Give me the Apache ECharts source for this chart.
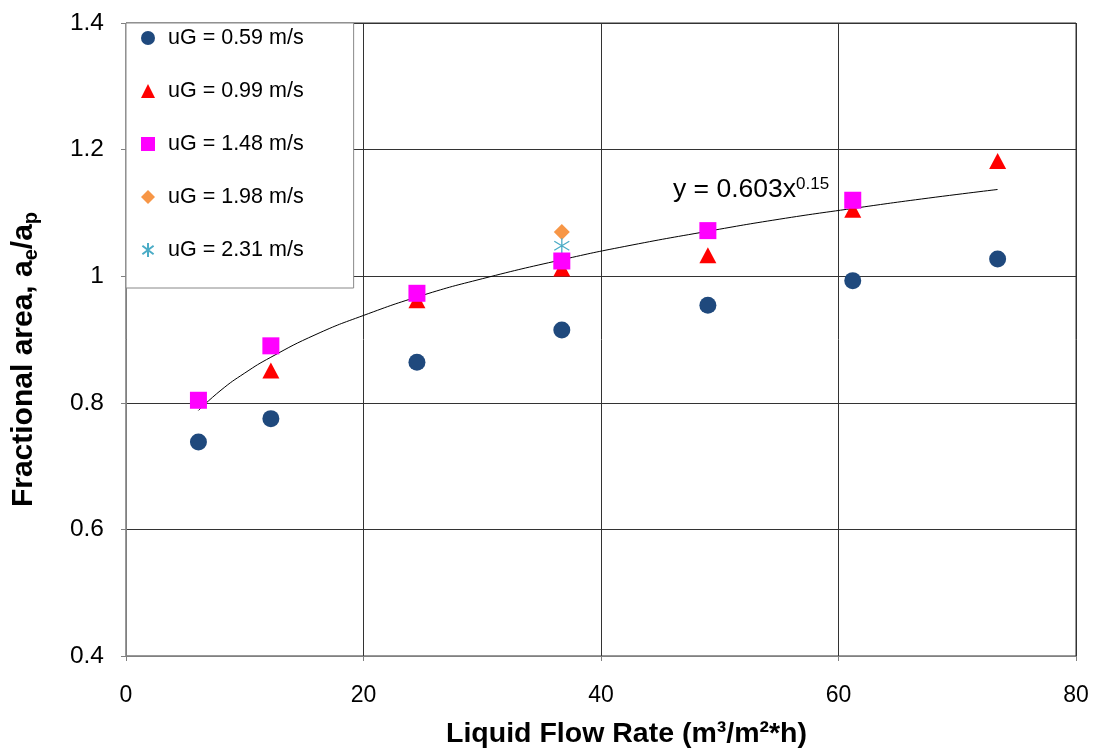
<!DOCTYPE html>
<html>
<head>
<meta charset="utf-8">
<script src="https://cdn.jsdelivr.net/npm/echarts@6/dist/echarts.min.js"></script>
<style>
html,body{margin:0;padding:0;background:#fff;}
#chart{width:1097px;height:756px;}
</style>
</head>
<body>
<div id="chart"></div>
<script>
// ---- data ----
const flowAll   = [6.1, 12.2, 24.5, 36.7, 49.0, 61.2, 73.4];
const ug059     = [0.738, 0.775, 0.864, 0.915, 0.954, 0.993, 1.027];
const flow099   = [12.2, 24.5, 36.7, 49.0, 61.2, 73.4];
const ug099     = [0.851, 0.962, 1.012, 1.033, 1.105, 1.182];
const flow148   = [6.1, 12.2, 24.5, 36.7, 49.0, 61.2];
const ug148     = [0.804, 0.890, 0.973, 1.024, 1.072, 1.120];
const flow198   = [36.7];
const ug198     = [1.070];
const flow231   = [36.7];
const ug231     = [1.048];
// trend line (y = 0.603x^0.15)
const trendX    = [6.1, 8, 10, 12.2, 16, 20, 25, 30, 36.7, 42, 49.0, 55, 61.2, 67, 73.4];
const trendY    = [0.788, 0.820, 0.847, 0.872, 0.908, 0.938, 0.970, 0.996, 1.026, 1.047, 1.071, 1.090, 1.107, 1.122, 1.137];
const xTicks    = [0, 20, 40, 60, 80];
const yTicks    = [0.4, 0.6, 0.8, 1, 1.2, 1.4];
const seriesNames = ['uG = 0.59 m/s', 'uG = 0.99 m/s', 'uG = 1.48 m/s', 'uG = 1.98 m/s', 'uG = 2.31 m/s'];

const pairs = (xs, ys) => xs.map((x, i) => [x, ys[i]]);
const FONT = '"Liberation Sans", Arial, sans-serif';
const asterisk = 'path://M5 0 L5 10 M1 2 L9 8 M1 8 L9 2';

const chart = echarts.init(document.getElementById('chart'));
chart.setOption({
  animation: false,
  backgroundColor: '#fff',
  textStyle: { fontFamily: FONT },
  grid: { left: 126, right: 21, top: 23, bottom: 100, containLabel: false, outerBoundsMode: 'none',
          show: true, borderColor: '#333', borderWidth: 1 },
  legend: {
    data: seriesNames,
    orient: 'vertical',
    left: 126, top: 23,
    backgroundColor: '#fff',
    borderColor: '#888',
    borderWidth: 1,
    padding: [4, 50, 27, 15],
    itemGap: 31,
    itemWidth: 14, itemHeight: 14,
    textStyle: { fontSize: 21.5, color: '#000', fontFamily: FONT, lineHeight: 21, padding: [0, 0, 0, 8] }
  },
  xAxis: {
    type: 'value', min: xTicks[0], max: xTicks[xTicks.length - 1], interval: 20,
    name: 'Liquid Flow Rate (m³/m²*h)',
    nameLocation: 'middle', nameGap: 64,
    nameTextStyle: { fontSize: 28.5, fontWeight: 'bold', color: '#000', fontFamily: FONT, padding: [0, 0, 0, 51] },
    axisLine: { show: true, lineStyle: { color: '#808080', width: 1 } },
    axisTick: { show: true, inside: false, length: 5, lineStyle: { color: '#808080' } },
    axisLabel: { fontSize: 23, color: '#000', margin: 28, fontFamily: FONT },
    splitLine: { show: true, lineStyle: { color: '#333', width: 1 } }
  },
  yAxis: {
    type: 'value', min: yTicks[0], max: yTicks[yTicks.length - 1], interval: 0.2,
    name: '{t|Fractional area, a}{s|e}{t|/a}{s|p}',
    nameLocation: 'middle', nameGap: 85,
    nameTextStyle: {
      color: '#000', fontFamily: FONT, padding: [0, 40, 0, 0],
      rich: {
        t: { fontSize: 30, fontWeight: 'bold', color: '#000', fontFamily: FONT, lineHeight: 34 },
        s: { fontSize: 20, fontWeight: 'bold', color: '#000', fontFamily: FONT, lineHeight: 20, verticalAlign: 'bottom' }
      }
    },
    axisLine: { show: true, lineStyle: { color: '#808080', width: 1 } },
    axisTick: { show: true, inside: false, length: 5, lineStyle: { color: '#808080' } },
    axisLabel: { fontSize: 24.5, color: '#000', margin: 22, fontFamily: FONT,
      formatter: v => String(Math.round(v * 10) / 10) },
    splitLine: { show: true, lineStyle: { color: '#333', width: 1 } }
  },
  series: [
    { name: 'trend', type: 'line', data: pairs(trendX, trendY), smooth: true, showSymbol: false,
      symbol: 'none', lineStyle: { color: '#000', width: 1 }, z: 1, silent: true },
    { name: seriesNames[0], type: 'scatter', data: pairs(flowAll, ug059), symbol: 'circle', symbolSize: 17,
      itemStyle: { color: '#1F497D', opacity: 1 }, z: 3 },
    { name: seriesNames[1], type: 'scatter', data: pairs(flow099, ug099), symbol: 'triangle', symbolSize: [17, 16],
      itemStyle: { color: '#FF0000', opacity: 1 }, z: 3 },
    { name: seriesNames[2], type: 'scatter', data: pairs(flow148, ug148), symbol: 'rect', symbolSize: 17,
      itemStyle: { color: '#FF00FF', opacity: 1 }, z: 4 },
    { name: seriesNames[3], type: 'scatter', data: pairs(flow198, ug198), symbol: 'diamond', symbolSize: 16,
      itemStyle: { color: '#F79646', opacity: 1 }, z: 3 },
    { name: seriesNames[4], type: 'scatter', data: pairs(flow231, ug231), symbol: asterisk, symbolSize: 15,
      itemStyle: { color: 'rgba(0,0,0,0)', borderColor: '#4BACC6', borderWidth: 1.3, opacity: 1 }, z: 3 }
  ],
  graphic: [{
    type: 'text', left: 673, top: 176, z: 10,
    style: {
      text: '{m|y = 0.603x}{p|0.15}',
      rich: {
        m: { fontSize: 26.5, fill: '#000', fontFamily: FONT, lineHeight: 27 },
        p: { fontSize: 17, fill: '#000', fontFamily: FONT, lineHeight: 22, verticalAlign: 'top' }
      }
    }
  }]
});
</script>
</body>
</html>
